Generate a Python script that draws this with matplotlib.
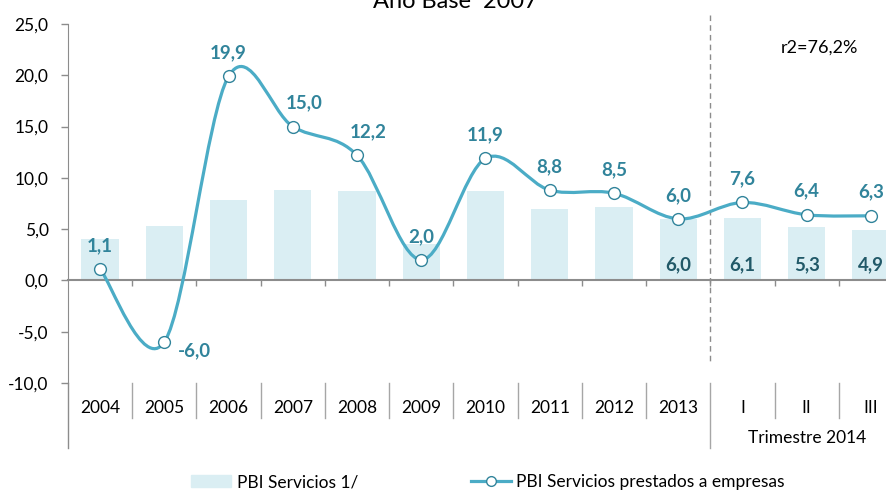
import numpy as np
import matplotlib
matplotlib.use('Agg')
import matplotlib.pyplot as plt
from matplotlib.path import Path
from matplotlib.patches import PathPatch
import matplotlib.transforms as mtransforms

plt.rcParams['font.family'] = ['Lato', 'DejaVu Sans']

# data -------------------------------------------------------------------------
categories = ['2004', '2005', '2006', '2007', '2008', '2009', '2010',
              '2011', '2012', '2013', 'I', 'II', 'III']
pbi_servicios = [4.0, 5.3, 7.8, 8.8, 8.7, 3.6, 8.7, 7.0, 7.2, 6.0, 6.1, 5.2, 4.9]
pbi_servicios_labels = ['', '', '', '', '', '', '', '', '', '6,0', '6,1', '5,3', '4,9']
pbi_empresas = [1.1, -6.0, 19.9, 15.0, 12.2, 2.0, 11.9, 8.8, 8.5, 6.0, 7.6, 6.4, 6.3]
yticks = [-10, -5, 0, 5, 10, 15, 20, 25]

BAR_COLOR = '#DAEEF3'
LINE_COLOR = '#4BACC6'
EDGE_COLOR = '#31849B'
LABEL_COLOR = '#31849B'
BAR_LABEL_COLOR = '#215968'
GRAY = '#8C8C8C'
FS = 12.5

fig = plt.figure(figsize=(8.87, 4.9), dpi=100)
ax = fig.add_axes([68 / 887, 1 - 383 / 490, 835 / 887, 359 / 490])

x = np.arange(len(categories))
ax.bar(x, pbi_servicios, width=0.58, color=BAR_COLOR, zorder=1)

# smoothed line (excel style bezier through the points) ---------------------------
pts = np.column_stack([x, pbi_empresas]).astype(float)
verts = [pts[0]]
codes = [Path.MOVETO]
for i in range(len(pts) - 1):
    p0 = pts[i - 1] if i > 0 else pts[i]
    p1 = pts[i]
    p2 = pts[i + 1]
    p3 = pts[i + 2] if i + 2 < len(pts) else pts[i + 1]
    verts += [p1 + (p2 - p0) / 6, p2 - (p3 - p1) / 6, p2]
    codes += [Path.CURVE4] * 3
ax.add_patch(PathPatch(Path(verts, codes), facecolor='none', edgecolor=LINE_COLOR,
                       linewidth=2.3, zorder=3, capstyle='round'))
ax.plot(x, pbi_empresas, linestyle='none', marker='o', markersize=8.5,
        markerfacecolor='white', markeredgecolor=EDGE_COLOR, markeredgewidth=1.0, zorder=4)

# data labels
for i, v in enumerate(pbi_empresas):
    dx, dy = 0, 17
    if v == 15.0 or v == 12.2:
        dx = 8
    if v < 0:
        dx, dy = 22, -6
    ax.annotate('{:.1f}'.format(v).replace('.', ','), (x[i], v), xytext=(dx, dy),
                textcoords='offset points', ha='center', va='center',
                fontsize=13.5, fontweight='bold', color=LABEL_COLOR, zorder=5)
for i, lab in enumerate(pbi_servicios_labels):
    if lab:
        ax.text(x[i], 1.5, lab, ha='center', va='center', fontsize=13.5,
                fontweight='bold', color=BAR_LABEL_COLOR, zorder=5)

# axes -------------------------------------------------------------------------
ax.set_xlim(-0.5, len(categories) - 0.5)
ax.set_ylim(-10, 25)
ax.set_yticks(yticks)
ax.set_yticklabels(['{:.1f}'.format(t).replace('.', ',') for t in yticks], fontsize=FS)
ax.tick_params(axis='y', length=5, width=1, color=GRAY, pad=9)
for s in ['top', 'right']:
    ax.spines[s].set_visible(False)
ax.spines['left'].set_color(GRAY)
ax.spines['bottom'].set_position(('data', 0))
ax.spines['bottom'].set_color(GRAY)
ax.spines['bottom'].set_linewidth(1.5)
ax.set_xticks(np.arange(0.5, len(categories) - 1))
ax.set_xticklabels([])
ax.tick_params(axis='x', length=4, width=1, color=GRAY, direction='out')

trans = mtransforms.blended_transform_factory(ax.transData, ax.transAxes)
for i, c in enumerate(categories):
    ax.text(i, -0.07, c, transform=trans, ha='center', va='center', fontsize=FS)
for b in np.arange(0.5, len(categories) - 1):
    bottom = -0.181 if b == 9.5 else -0.0975
    ax.plot([b, b], [0, bottom], transform=trans, color='#A6A6A6', linewidth=1, clip_on=False)
ax.plot([-0.5, -0.5], [0, -0.181], transform=trans, color=GRAY, linewidth=1, clip_on=False)
ax.text(11, -0.153, 'Trimestre 2014', transform=trans, ha='center', va='center', fontsize=FS)

# separation between years and quarters
ax.plot([9.5, 9.5], [25.9, -8.2], color=GRAY, linewidth=1, linestyle=(0, (4, 3)), clip_on=False, zorder=2)
ax.text(11.2, 22.7, 'r2=76,2%', ha='center', va='center', fontsize=13)

fig.text(455 / 887, 0.997, 'Año Base  2007', ha='center', va='center', fontsize=17)

handles = [plt.Rectangle((0, 0), 1, 1, color=BAR_COLOR),
           plt.Line2D([], [], color=LINE_COLOR, linewidth=2.3, marker='o', markersize=7,
                      markerfacecolor='white', markeredgecolor=EDGE_COLOR)]
fig.legend(handles=handles, labels=['PBI Servicios 1/', 'PBI Servicios prestados a empresas'],
           loc='center', bbox_to_anchor=(488 / 887, 1 - 482 / 490), ncol=2, frameon=False,
           fontsize=FS, handlelength=2.3, handleheight=0.7, columnspacing=6.5, handletextpad=0.3)

fig.savefig('out.png', dpi=100)
